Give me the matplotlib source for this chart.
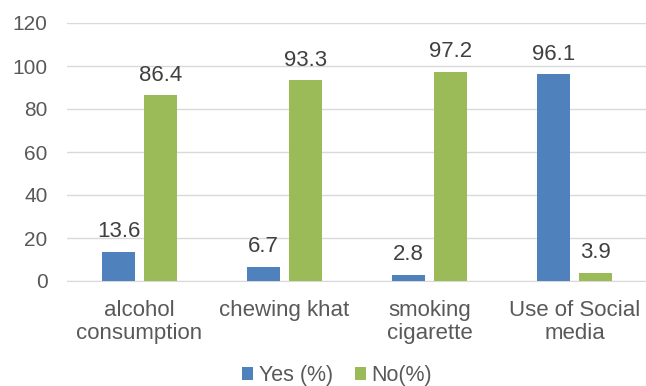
import numpy as np
import matplotlib
matplotlib.use('Agg')
import matplotlib.pyplot as plt

categories = ['alcohol\nconsumption', 'chewing khat', 'smoking\ncigarette', 'Use of Social\nmedia']
yes_pct = [13.6, 6.7, 2.8, 96.1]
no_pct = [86.4, 93.3, 97.2, 3.9]
yticks = [0, 20, 40, 60, 80, 100, 120]

plt.rcParams['font.family'] = ['Liberation Sans', 'DejaVu Sans']

fig = plt.figure(figsize=(6.46, 3.86), dpi=100)
ax = fig.add_axes([67/646, 1-281/386, 580/646, 258/386])

x = np.arange(len(categories))
w = 0.227
off = 0.145
b1 = ax.bar(x - off, yes_pct, w, color='#4F81BD', label='Yes (%)', zorder=3)
b2 = ax.bar(x + off, no_pct, w, color='#9BBB59', label='No(%)', zorder=3)

for bars, vals in ((b1, yes_pct), (b2, no_pct)):
    for r, v in zip(bars, vals):
        ax.text(r.get_x() + r.get_width()/2, v + 4.5, f'{v:g}', ha='center', va='bottom',
                fontsize=16, color='#404040')

ax.set_xlim(-0.5, 3.5)
ax.set_ylim(0, 120)
ax.set_yticks(yticks)
ax.set_xticks(x)
ax.set_xticklabels(categories, fontsize=16, linespacing=1.1)
ax.grid(axis='y', color='#D9D9D9', linewidth=1, zorder=0)
for s in ['top', 'right', 'left']:
    ax.spines[s].set_visible(False)
ax.spines['bottom'].set_color('#D9D9D9')
ax.tick_params(axis='both', length=0, labelcolor='#595959')
ax.tick_params(axis='y', pad=14, labelsize=15)
ax.tick_params(axis='x', pad=14)

fig.legend(handles=[b1, b2], loc='center', bbox_to_anchor=(337/646, 1-376/386), ncol=2,
           frameon=False, fontsize=15.5, handlelength=0.55, handleheight=0.55,
           handletextpad=0.25, columnspacing=1.0, labelcolor='#595959')

fig.savefig('out.png', dpi=100)
